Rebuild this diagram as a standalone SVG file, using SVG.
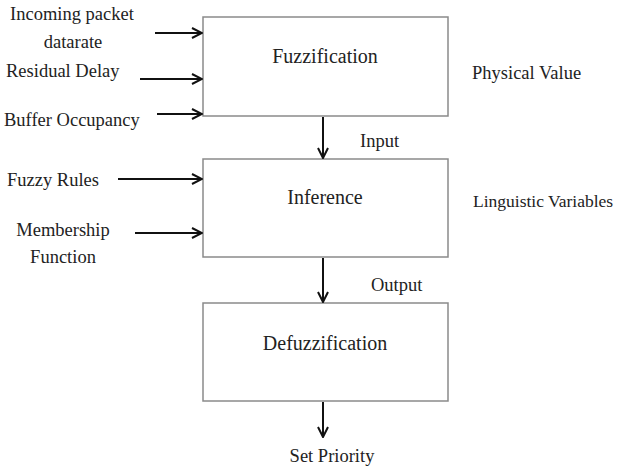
<svg xmlns="http://www.w3.org/2000/svg" width="617" height="468" viewBox="0 0 617 468">
<style>
text{font-family:"Liberation Serif","DejaVu Serif",serif;font-size:18.5px;fill:#222}
.title{font-size:20px}
.box{fill:#fff;stroke:#8a8a8a;stroke-width:1.5}
.arr{stroke:#111;stroke-width:2;fill:none;marker-end:url(#ah)}
</style>
<defs>
<marker id="ah" viewBox="0 0 12 12" refX="11" refY="6" markerWidth="12" markerHeight="12" markerUnits="userSpaceOnUse" orient="auto">
<path d="M1,1 L11,6 L1,11" fill="none" stroke="#111" stroke-width="2"/>
</marker>
</defs>
<rect width="617" height="468" fill="#fff"/>
<g id="fuzzification"><rect class="box" x="203" y="17" width="245" height="99"/><text class="title" x="325" y="63" text-anchor="middle">Fuzzification</text></g>
<g id="inference"><rect class="box" x="203" y="159" width="245" height="98"/><text class="title" x="325" y="204" text-anchor="middle">Inference</text></g>
<g id="defuzzification"><rect class="box" x="203" y="303" width="245" height="98"/><text class="title" x="325" y="350" text-anchor="middle">Defuzzification</text></g>
<g id="labels">
<text x="72" y="20" text-anchor="middle">Incoming packet</text>
<text x="73" y="48" text-anchor="middle">datarate</text>
<text x="6" y="77">Residual Delay</text>
<text x="4" y="126">Buffer Occupancy</text>
<text x="7" y="186">Fuzzy Rules</text>
<text x="63" y="236" text-anchor="middle">Membership</text>
<text x="63" y="263" text-anchor="middle">Function</text>
<text x="472" y="79">Physical Value</text>
<text x="360" y="147">Input</text>
<text x="473" y="207" style="font-size:17.5px">Linguistic Variables</text>
<text x="371" y="291">Output</text>
<text x="332" y="462" text-anchor="middle">Set Priority</text>
</g>
<g id="connectors">
<line class="arr" x1="155" y1="33" x2="202" y2="33"/>
<line class="arr" x1="140" y1="79" x2="202" y2="79"/>
<line class="arr" x1="157" y1="114" x2="202" y2="114"/>
<line class="arr" x1="118" y1="179" x2="202" y2="179"/>
<line class="arr" x1="135" y1="233" x2="202" y2="233"/>
<line class="arr" x1="323" y1="117" x2="323" y2="158"/>
<line class="arr" x1="323" y1="258" x2="323" y2="302"/>
<line class="arr" x1="323" y1="402" x2="323" y2="437"/>
</g>
</svg>
